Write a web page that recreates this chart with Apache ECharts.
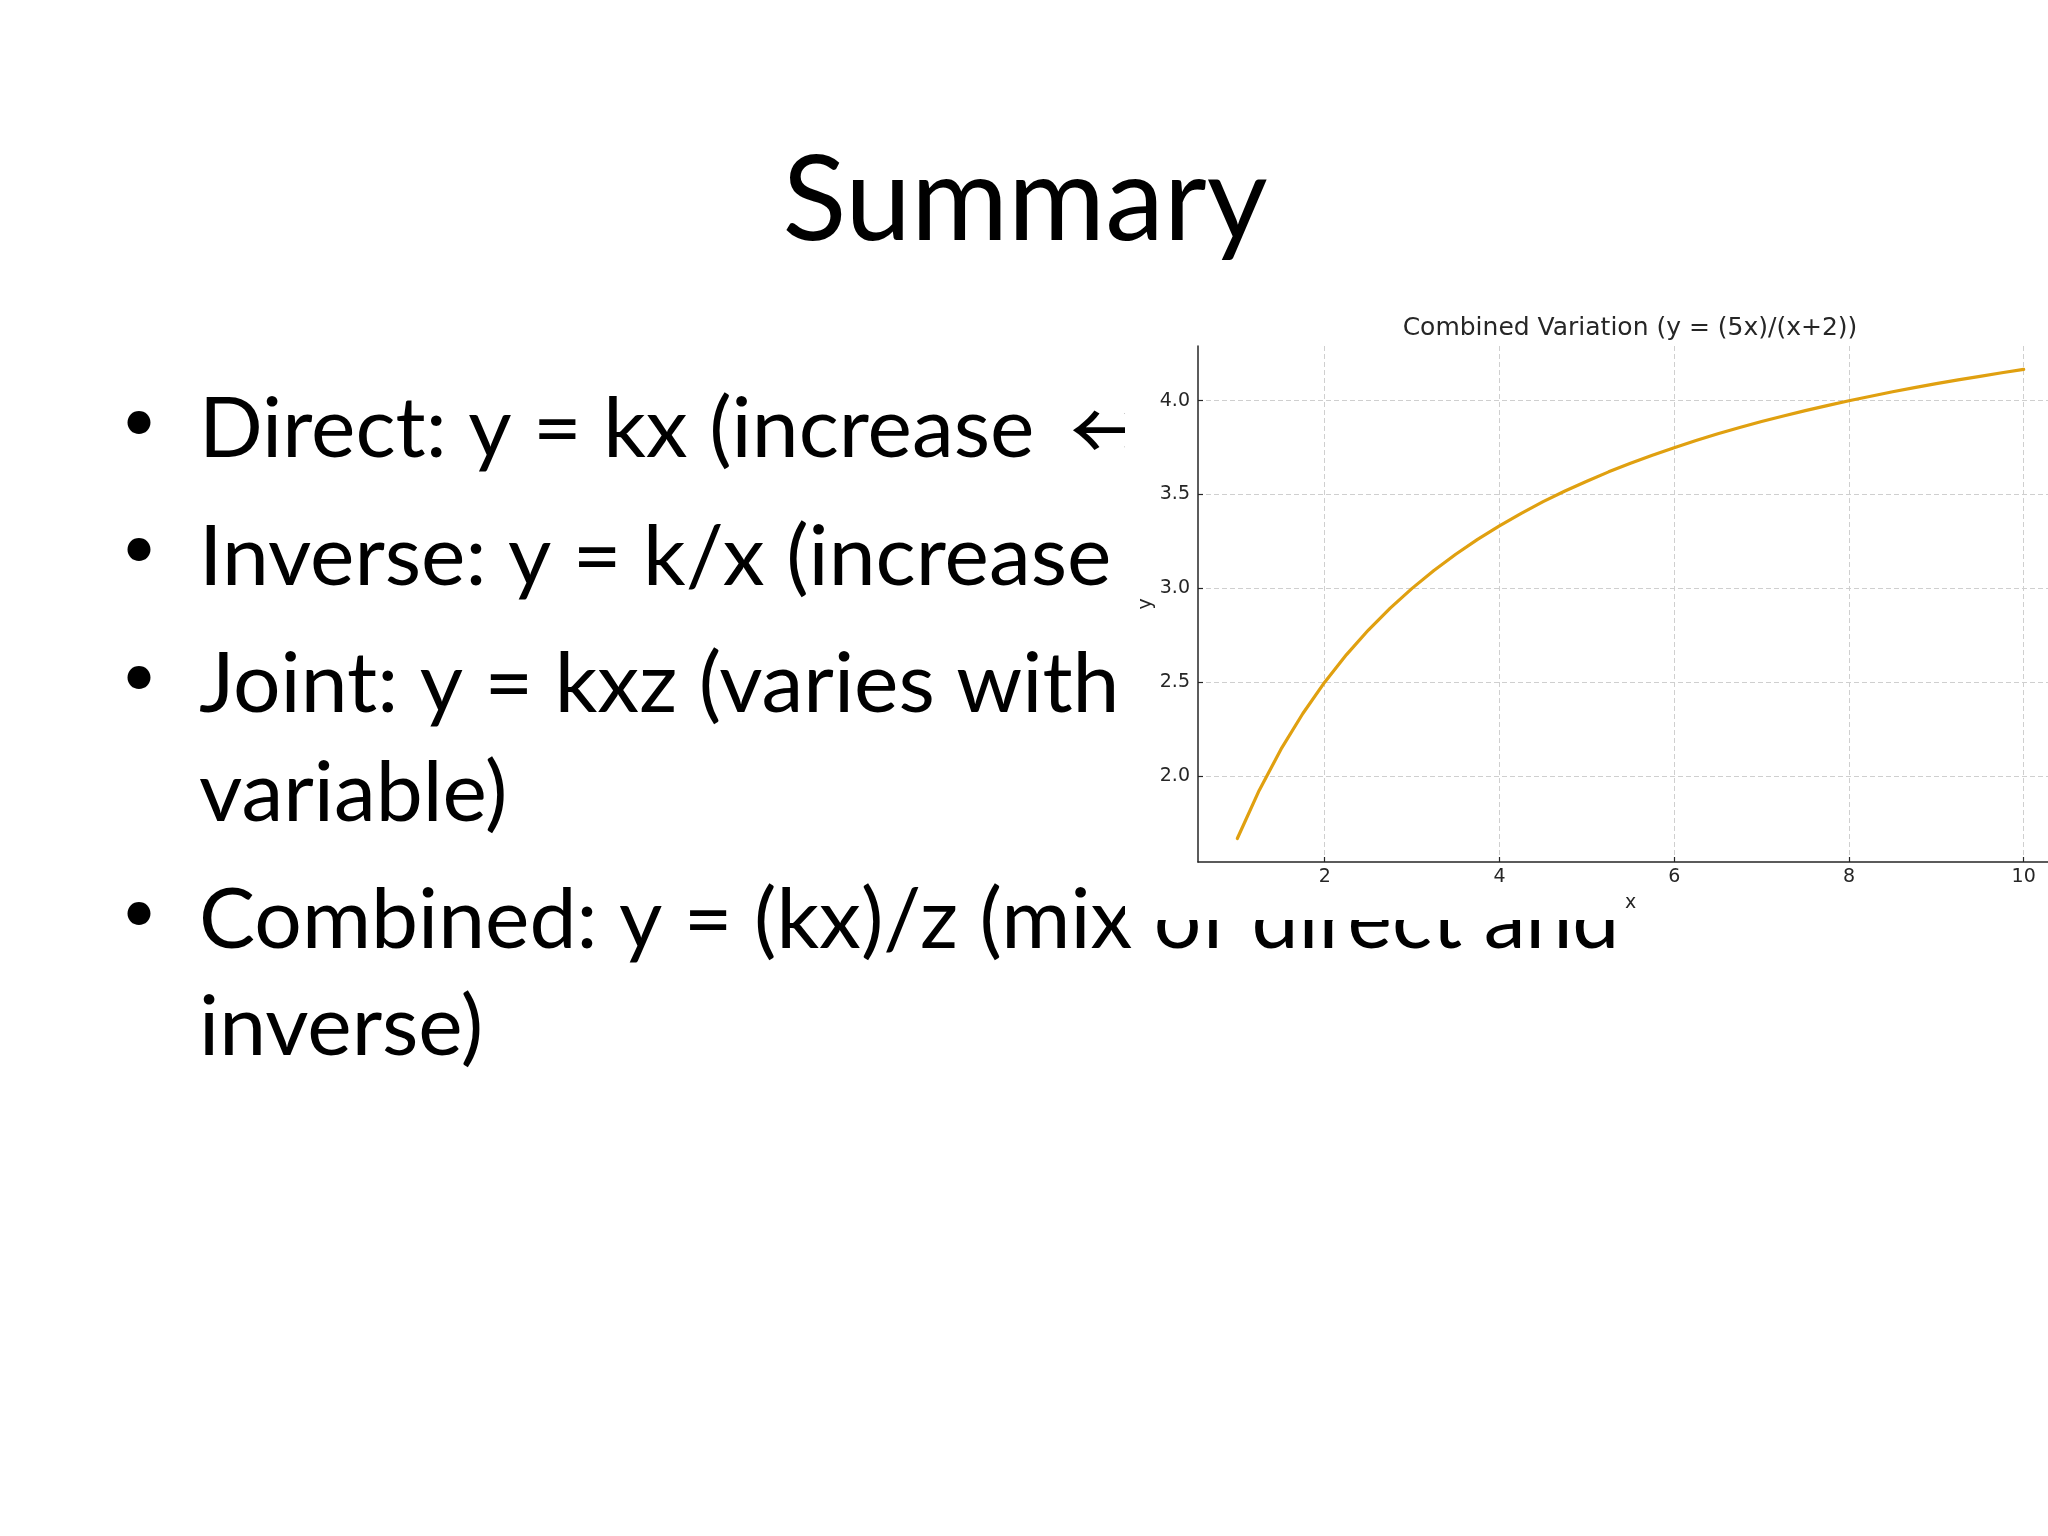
<!DOCTYPE html>
<html>
<head>
<meta charset="utf-8">
<style>
html,body{margin:0;padding:0;background:#fff;overflow:hidden;width:2048px;height:1536px;}
#chart{width:2070px;height:1536px;}
</style>
<script src="https://cdn.jsdelivr.net/npm/echarts@6/dist/echarts.min.js"></script>
</head>
<body>
<div id="chart"></div>
<script>
// ---- data ----
const slideTitle = "Summary";
const bulletLines = [
  "Direct: y = kx (increase {arr|\u2194} increase)",
  "Inverse: y = k/x (increase {arr|\u2194} decrease)",
  "Joint: y = kxz (varies with more than one",
  "variable)",
  "Combined: y = (kx)/z (mix of direct and",
  "inverse)"
];
const bulletFlags = [true, true, true, false, true, false];
const chartTitle = "Combined Variation (y = (5x)/(x+2))";
const xValues = [1, 1.25, 1.5, 1.75, 2, 2.25, 2.5, 2.75, 3, 3.25, 3.5, 3.75, 4, 4.25, 4.5, 4.75, 5,
  5.25, 5.5, 5.75, 6, 6.25, 6.5, 6.75, 7, 7.25, 7.5, 7.75, 8, 8.25, 8.5, 8.75, 9, 9.25, 9.5, 9.75, 10];
const yValues = [1.667, 1.923, 2.143, 2.333, 2.500, 2.647, 2.778, 2.895, 3.000, 3.095, 3.182, 3.261, 3.333,
  3.400, 3.462, 3.519, 3.571, 3.621, 3.667, 3.710, 3.750, 3.788, 3.824, 3.857, 3.889, 3.919, 3.947, 3.974,
  4.000, 4.024, 4.048, 4.070, 4.091, 4.111, 4.130, 4.149, 4.167];
const xTicks = [2, 4, 6, 8, 10];
const yTicks = [2.0, 2.5, 3.0, 3.5, 4.0];
const xName = "x";
const yName = "y";

// ---- layout ----
const lineCenters = [430, 558, 685, 794, 921, 1028];
const bulletCenters = [421, 548, 676, 912];

const chart = echarts.init(document.getElementById('chart'), null, {renderer: 'canvas'});

const textFont = '84px Lato';
const graphics = [];
graphics.push({
  type: 'text', zlevel: 0, z: 1, x: 1025, y: 202,
  style: {text: slideTitle, font: '118px Lato', fill: '#000', align: 'center', verticalAlign: 'middle'}
});
let b = 0;
bulletLines.forEach((t, i) => {
  graphics.push({
    type: 'text', zlevel: 0, z: 1, x: 199, y: lineCenters[i],
    style: {
      text: t, font: textFont, fill: '#000', align: 'left', verticalAlign: 'middle',
      rich: {arr: {fontFamily: '"Noto Sans CJK SC"', fontSize: 84, fill: '#000', padding: [0, 0, 0, 14]}}
    }
  });
  if (bulletFlags[i]) {
    graphics.push({
      type: 'text', zlevel: 0, z: 1, x: 139, y: bulletCenters[b++],
      style: {text: '\u2022', font: '62px Lato', fill: '#000', align: 'center', verticalAlign: 'middle'}
    });
  }
});
// white background of the embedded chart picture
graphics.push({
  type: 'rect', zlevel: 0, z: 10,
  shape: {x: 1125, y: 295, width: 960, height: 625},
  style: {fill: '#fff'}
});

const axisColor = '#262626';
const font = 'DejaVu Sans';

const option = {
  backgroundColor: '#fff',
  animation: false,
  graphic: graphics,
  title: {
    zlevel: 1,
    text: chartTitle,
    left: 1625, top: 311, textAlign: 'center',
    textStyle: {fontFamily: font, fontSize: 25, fontWeight: 'normal', color: '#262626'}
  },
  grid: {left: 1198, top: 346, width: 865, height: 516, containLabel: false},
  xAxis: {
    zlevel: 1,
    type: 'value', min: 0.55, max: 10.45,
    name: xName, nameLocation: 'middle', nameGap: 32,
    nameTextStyle: {fontFamily: font, fontSize: 19, color: '#262626'},
    axisLine: {show: true, onZero: false, lineStyle: {color: axisColor, width: 1.5}},
    axisTick: {show: true, inside: true, length: 5, customValues: xTicks, lineStyle: {color: axisColor, width: 1.2}},
    axisLabel: {customValues: xTicks, margin: 6, fontFamily: font, fontSize: 19, color: '#262626',
      formatter: v => String(v)},
    splitLine: {show: true, lineStyle: {color: '#cfcfcf', width: 1, type: [5, 3]}}
  },
  yAxis: {
    zlevel: 1,
    type: 'value', min: 1.5417, max: 4.2917,
    name: yName, nameLocation: 'middle', nameGap: 42, nameRotate: 90,
    nameTextStyle: {fontFamily: font, fontSize: 19, color: '#262626'},
    axisLine: {show: true, onZero: false, lineStyle: {color: axisColor, width: 1.5}},
    axisTick: {show: true, inside: true, length: 5, customValues: yTicks, lineStyle: {color: axisColor, width: 1.2}},
    axisLabel: {customValues: yTicks, margin: 8, fontFamily: font, fontSize: 19, color: '#262626',
      formatter: v => v.toFixed(1)},
    splitLine: {show: true, lineStyle: {color: '#cfcfcf', width: 1, type: [5, 3]}}
  },
  series: [{
    zlevel: 1,
    type: 'line',
    data: xValues.map((x, i) => [x, yValues[i]]),
    showSymbol: false,
    smooth: false,
    lineStyle: {color: '#E0A010', width: 3.2, join: 'round', cap: 'round'},
    itemStyle: {color: '#E0A010'}
  }]
};
chart.setOption(option);
</script>
</body>
</html>
